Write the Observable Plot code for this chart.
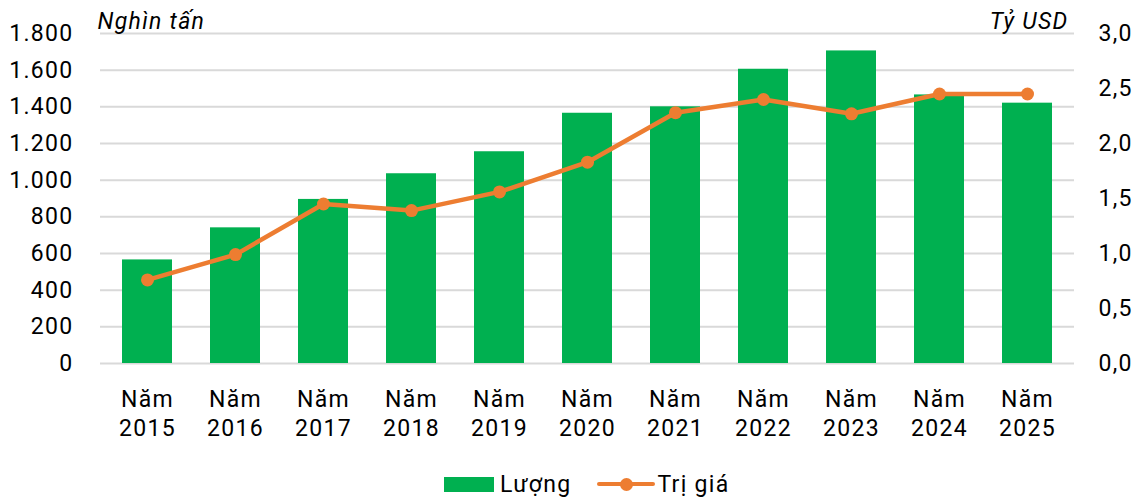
<!DOCTYPE html>
<html>
<head>
<meta charset="utf-8">
<script src="https://cdn.jsdelivr.net/npm/d3@7"></script>
<script src="https://cdn.jsdelivr.net/npm/@observablehq/plot@0.6"></script>
<style>
  html, body { margin: 0; padding: 0; background: #fff; }
  body { width: 1139px; height: 500px; position: relative; overflow: hidden; font-family: Roboto, "Noto Sans", sans-serif; }
  #chart { position: absolute; left: 0; top: 0; }
  .legend { position: absolute; top: 467px; left: 444px; display: flex; align-items: center; font-size: 23px; letter-spacing: 1.3px; color: #000; height: 34px; }
  .legend .sw-bar { width: 50px; height: 15px; background: #00b050; margin-right: 6px; }
  .legend .sw-line { position: relative; width: 58px; height: 15px; margin-left: 26px; margin-right: 2px; }
  .legend .sw-line::before { content: ""; position: absolute; left: 0; right: 0; top: 5.5px; height: 4px; background: #ed7d31; border-radius: 2px; }
  .legend .sw-line::after { content: ""; position: absolute; left: 22.5px; top: 1px; width: 13px; height: 13px; border-radius: 50%; background: #ed7d31; }
</style>
</head>
<body>
<div id="chart"></div>
<div class="legend">
  <div class="sw-bar"></div><span>Lượng</span>
  <div class="sw-line"></div><span>Trị giá</span>
</div>
<script>
const years = ["2015","2016","2017","2018","2019","2020","2021","2022","2023","2024","2025"];
const luong = [565, 740, 895, 1035, 1155, 1365, 1400, 1605, 1705, 1465, 1420];   // nghìn tấn
const triGia = [0.76, 0.99, 1.45, 1.39, 1.56, 1.83, 2.28, 2.40, 2.27, 2.45, 2.45]; // tỷ USD
const leftTicks = [0, 200, 400, 600, 800, 1000, 1200, 1400, 1600, 1800];
const rightTicks = [0, 0.5, 1.0, 1.5, 2.0, 2.5, 3.0];
const leftMax = 1800, rightMax = 3.0;
const ratio = leftMax / rightMax;

const data = years.map((y, i) => ({year: y, luong: luong[i], triGia: triGia[i], triGiaScaled: triGia[i] * ratio}));

const viFmt = d3.formatLocale({decimal: ",", thousands: ".", grouping: [3], currency: ["", ""]});
const fmtLeft = viFmt.format(",");
const fmtRight = viFmt.format(".1f");

const chart = Plot.plot({
  width: 1139,
  height: 460,
  marginTop: 33,
  marginBottom: 97,
  marginLeft: 100,
  marginRight: 65,
  style: {fontFamily: "Roboto, 'Noto Sans', sans-serif", fontSize: "23px", letterSpacing: "1.3px", color: "#000", background: "#fff"},
  x: {domain: years, paddingInner: 0.435, paddingOuter: 0.2175, label: null},
  y: {domain: [0, leftMax], label: null},
  marks: [
    Plot.gridY(leftTicks, {stroke: "#d9d9d9", strokeOpacity: 1, strokeWidth: 2}),
    Plot.barY(data, {x: "year", y: "luong", fill: "#00b050"}),
    Plot.line(data, {x: "year", y: "triGiaScaled", stroke: "#ed7d31", strokeWidth: 4.5, curve: "linear"}),
    Plot.dot(data, {x: "year", y: "triGiaScaled", r: 6.5, fill: "#ed7d31", stroke: "none"}),
    Plot.axisY(leftTicks, {anchor: "left", tickSize: 0, tickPadding: 27, tickFormat: fmtLeft, fontSize: 23, label: null}),
    Plot.axisY(rightTicks.map(d => d * ratio), {anchor: "right", tickSize: 0, tickPadding: 24, tickFormat: d => fmtRight(d / ratio), fontSize: 23, label: null}),
    Plot.axisX({tickSize: 0, tickPadding: 23, tickFormat: d => "Năm\n" + d, fontSize: 23, lineHeight: 1.27, label: null}),
    Plot.text(["Nghìn tấn"], {frameAnchor: "top-left", textAnchor: "start", lineAnchor: "bottom", dx: -3, dy: -5, fontStyle: "italic", fontSize: 23, fill: "#000"}),
    Plot.text(["Tỷ USD"], {frameAnchor: "top-right", textAnchor: "end", lineAnchor: "bottom", dx: -6, dy: -5, fontStyle: "italic", fontSize: 23, fill: "#000"})
  ]
});
document.getElementById("chart").appendChild(chart);
</script>
</body>
</html>
